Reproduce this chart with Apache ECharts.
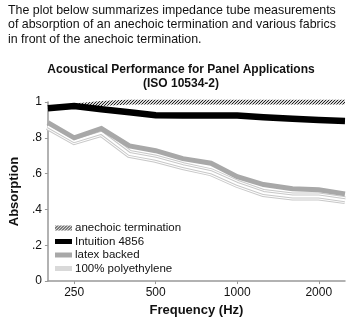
<!DOCTYPE html>
<html>
<head>
<meta charset="utf-8">
<script src="https://cdn.jsdelivr.net/npm/echarts@6/dist/echarts.min.js"></script>
<style>
  html, body { margin: 0; padding: 0; background: #fff; }
  #chart { width: 348px; height: 322px; }
</style>
</head>
<body>
<div id="chart"></div>
<script>
// One-third-octave band centre frequencies (Hz)
const frequencies = [200, 250, 315, 400, 500, 630, 800, 1000, 1250, 1600, 2000, 2500];
const freqTicks = [250, 500, 1000, 2000];
const absorptionTicks = [0, 0.2, 0.4, 0.6, 0.8, 1];

const seriesNames = ['anechoic termination', 'Intuition 4856', 'latex backed', '100% polyethylene'];
const anechoic     = [0.965, 0.978, 0.992, 1.0, 1.0, 1.0, 1.0, 1.0, 1.0, 1.0, 1.0, 1.0];
const intuition    = [0.965, 0.978, 0.96, 0.943, 0.926, 0.925, 0.925, 0.924, 0.915, 0.907, 0.899, 0.894];
const latexBacked  = [0.885, 0.80, 0.852, 0.755, 0.728, 0.684, 0.658, 0.583, 0.539, 0.516, 0.51, 0.487];
const polyethylene = [0.865, 0.782, 0.828, 0.71, 0.683, 0.642, 0.608, 0.543, 0.492, 0.472, 0.472, 0.452];

const log2 = Math.log2;
const pairs = vals => frequencies.map((f, i) => [log2(f), vals[i]]);

// diagonal hatch used for the anechoic termination stroke
function hatch() {
  const c = document.createElement('canvas');
  c.width = 3; c.height = 3;
  const g = c.getContext('2d');
  g.fillStyle = '#d8d8d8';
  g.fillRect(0, 0, 3, 3);
  g.fillStyle = '#222';
  for (let i = 0; i < 3; i++) g.fillRect(i, 2 - i, 1, 1);
  return c;
}
const hatchPattern = { image: hatch(), repeat: 'repeat' };

const FONT = 'Liberation Sans, Arial, Helvetica, sans-serif';
const chart = echarts.init(document.getElementById('chart'), null, { renderer: 'canvas' });

const baseLine = (name, data, color, width, z) => ({
  name, type: 'line', data, showSymbol: false, symbol: 'none', silent: true,
  lineStyle: { color, width, join: 'miter', cap: 'butt' }, z
});

chart.setOption({
  animation: false,
  backgroundColor: '#fff',
  textStyle: { fontFamily: FONT },
  title: {
    text: 'Acoustical Performance for Panel Applications\n(ISO 10534-2)',
    left: 176, top: 58, textAlign: 'center',
    textStyle: { fontFamily: FONT, fontSize: 12, fontWeight: 'bold', color: '#111', lineHeight: 14 }
  },
  graphic: [{
    type: 'text', left: 8, top: 3,
    style: {
      text: 'The plot below summarizes impedance tube measurements\nof absorption of an anechoic termination and various fabrics\nin front of the anechoic termination.',
      font: '12.4px ' + FONT, fill: '#111', lineHeight: 14.5
    }
  }],
  legend: {
    left: 50, top: 217, orient: 'vertical', itemGap: 1.5,
    itemWidth: 17, itemHeight: 5, icon: 'rect',
    textStyle: { fontFamily: FONT, fontSize: 11.5, color: '#111', padding: [0, 0, 0, -2] },
    data: [
      { name: seriesNames[0], itemStyle: { color: hatchPattern } },
      { name: seriesNames[1], itemStyle: { color: '#000' } },
      { name: seriesNames[2], itemStyle: { color: '#a8a8a8' } },
      { name: seriesNames[3], itemStyle: { color: '#d9d9d9' } }
    ]
  },
  grid: { left: 36, right: 3, top: 102, bottom: 32 },
  xAxis: {
    type: 'value', min: log2(200), max: log2(2500),
    name: 'Frequency (Hz)', nameLocation: 'middle', nameGap: 20,
    nameTextStyle: { fontFamily: FONT, fontSize: 13, fontWeight: 'bold', color: '#111' },
    axisLine: { lineStyle: { color: '#999', width: 1.5 } },
    axisTick: { show: true, length: 3, lineStyle: { color: '#999' }, customValues: freqTicks.map(log2) },
    axisLabel: {
      customValues: freqTicks.map(log2), margin: 6,
      formatter: v => String(Math.round(Math.pow(2, v))),
      fontFamily: FONT, fontSize: 12, color: '#111'
    },
    splitLine: { show: false }
  },
  yAxis: {
    type: 'value', min: 0, max: 1, interval: 0.2,
    name: 'Absorption', nameLocation: 'middle', nameGap: 24,
    nameTextStyle: { fontFamily: FONT, fontSize: 13, fontWeight: 'bold', color: '#111' },
    axisLine: { show: true, lineStyle: { color: '#999', width: 1.5 } },
    axisTick: { show: true, length: 3, lineStyle: { color: '#999' } },
    axisLabel: {
      customValues: absorptionTicks, margin: 6,
      formatter: v => (v === 0 ? '0' : v === 1 ? '1' : String(+v.toFixed(1)).replace(/^0/, '')),
      fontFamily: FONT, fontSize: 12, color: '#111'
    },
    splitLine: { show: false }
  },
  series: [
    // 100% polyethylene: light striped band built from stacked strokes
    baseLine(seriesNames[3], pairs(polyethylene), '#c8c8c8', 8, 2),
    baseLine('poly-gap-1', pairs(polyethylene), '#ffffff', 6, 2),
    baseLine('poly-line-2', pairs(polyethylene), '#c8c8c8', 4, 2),
    baseLine('poly-gap-2', pairs(polyethylene), '#ffffff', 2, 2),
    baseLine(seriesNames[2], pairs(latexBacked), '#a8a8a8', 5, 3),
    baseLine(seriesNames[0], pairs(anechoic), hatchPattern, 5, 3),
    baseLine(seriesNames[1], pairs(intuition), '#000000', 6.5, 4)
  ]
});
</script>
</body>
</html>
